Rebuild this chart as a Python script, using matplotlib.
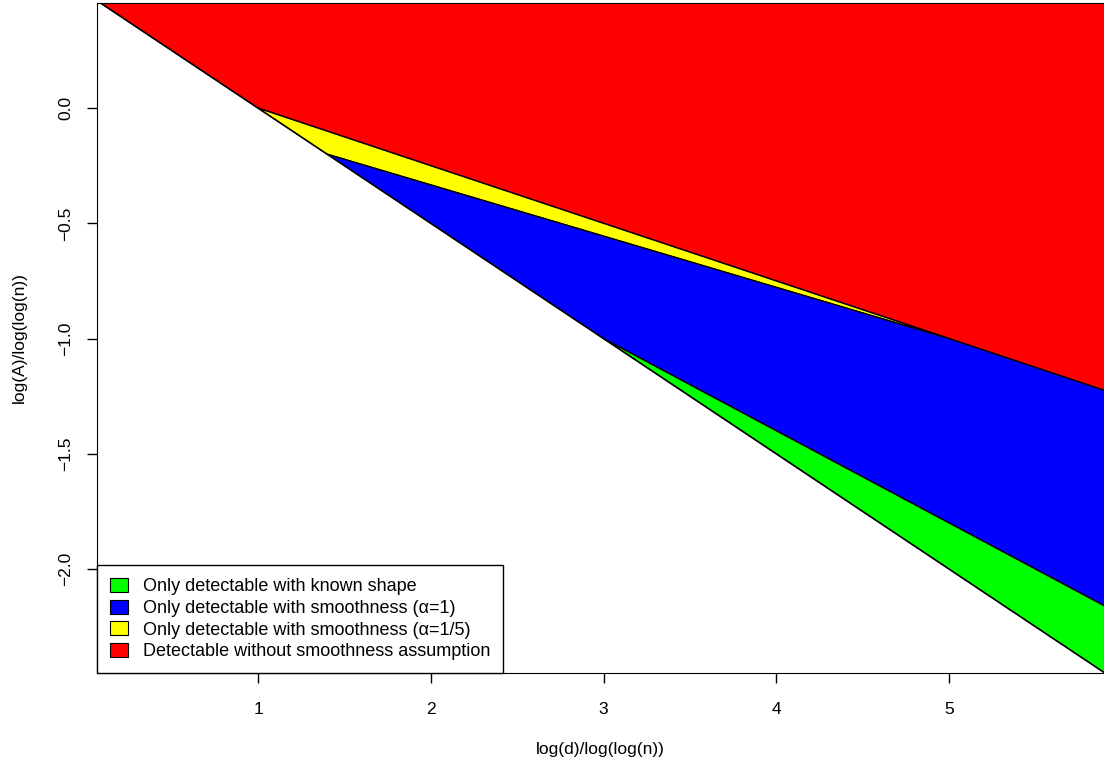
import matplotlib
matplotlib.use("Agg")
import matplotlib.pyplot as plt
from matplotlib.patches import Polygon, Patch

plt.rcParams['font.family'] = ['Liberation Sans', 'DejaVu Sans']

# polygon vertices (x, y); they run past the axes and get clipped
red_x = [0.0, 1.0, 6.0, 6.0, 0.0]
red_y = [0.5, 0.0, -1.25, 1.0, 1.0]
yellow_x = [1.0, 5.0, 1.4]
yellow_y = [0.0, -1.0, -0.2]
blue_x = [1.4, 5.0, 6.0, 6.0, 3.0]
blue_y = [-0.2, -1.0, -1.25, -2.2, -1.0]
green_x = [3.0, 6.0, 6.0]
green_y = [-1.0, -2.2, -2.5]
# lower boundary line
low_x = [0.0, 6.0]
low_y = [0.5, -2.5]

labels = ['Only detectable with known shape',
          'Only detectable with smoothness (\u03b1=1)',
          'Only detectable with smoothness (\u03b1=1/5)',
          'Detectable without smoothness assumption']
colors = ['#00ff00', '#0000ff', '#ffff00', '#ff0000']

fig = plt.figure(figsize=(11.04, 7.63), dpi=100)
ax = fig.add_axes([97/1104, 1 - 673/763, 1 - 97/1104, 670/763])

for xs, ys, c in [(red_x, red_y, '#ff0000'), (yellow_x, yellow_y, '#ffff00'),
                  (blue_x, blue_y, '#0000ff'), (green_x, green_y, '#00ff00')]:
    ax.add_patch(Polygon(list(zip(xs, ys)), closed=True, facecolor=c,
                         edgecolor='black', linewidth=1))
ax.plot(low_x, low_y, color='black', lw=1)

ax.set_xlim(0.068, 5.897)
ax.set_ylim(-2.451, 0.456)

ax.set_xticks([1, 2, 3, 4, 5])
ax.set_yticks([-2.0, -1.5, -1.0, -0.5, 0.0])
ax.set_yticklabels(['\u22122.0', '\u22121.5', '\u22121.0', '\u22120.5', '0.0'],
                   rotation=90, va='center')
ax.tick_params(direction='out', length=7, width=1, labelsize=12.5, pad=14)
ax.tick_params(axis='y', pad=10)
ax.set_xlabel('log(d)/log(log(n))', fontsize=12.5, labelpad=18)
ax.set_ylabel('log(A)/log(log(n))', fontsize=12.5, labelpad=23)

handles = [Patch(facecolor=c, edgecolor='black', linewidth=0.8) for c in colors]
leg = ax.legend(handles, labels, loc='lower left', borderaxespad=0, fontsize=13,
                fancybox=False, framealpha=1, edgecolor='black',
                handlelength=1.0, handleheight=0.8, handletextpad=0.85,
                labelspacing=0.25, borderpad=0.7)
leg.get_frame().set_linewidth(1)

fig.savefig('out.png', dpi=100)
